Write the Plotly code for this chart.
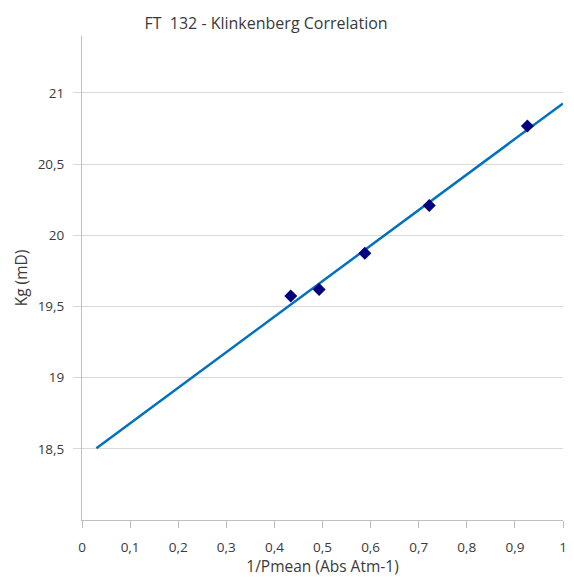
import numpy as np
import plotly.graph_objects as go

# Data
inv_pmean = [0.434, 0.493, 0.588, 0.722, 0.926]
kg = [19.574, 19.62, 19.874, 20.21, 20.767]

# Trendline extent (x values) and fit
trend_x_range = [0.03, 1.0]
slope, intercept = np.polyfit(inv_pmean, kg, 1)
trend_x = np.array(trend_x_range)
trend_y = slope * trend_x + intercept

x_ticks = [round(0.1 * i, 1) for i in range(11)]
y_ticks = [18.5, 19, 19.5, 20, 20.5, 21]

font_family = "Open Sans, Noto Sans, sans-serif"
text_color = "#3a3a3a"

fig = go.Figure()
fig.add_trace(go.Scatter(
    x=trend_x, y=trend_y, mode="lines",
    line=dict(color="#0070c0", width=2.5),
    showlegend=False, hoverinfo="skip",
))
fig.add_trace(go.Scatter(
    x=inv_pmean, y=kg, mode="markers",
    marker=dict(symbol="diamond", color="#000080", size=10),
    showlegend=False,
))

fig.update_layout(
    width=574, height=577,
    margin=dict(l=82, r=7, t=36, b=57),
    paper_bgcolor="white", plot_bgcolor="white",
    separators=",.",
    font=dict(family=font_family, size=13, color=text_color),
    title=dict(
        text="FT  132 - Klinkenberg Correlation",
        x=266 / 574, xanchor="center", y=1 - 23 / 577, yanchor="middle",
        font=dict(family=font_family, size=16, color=text_color),
    ),
    xaxis=dict(
        range=[0, 1], tickvals=x_ticks, showgrid=False, zeroline=False,
        showline=True, linecolor="#bfbfbf", linewidth=1,
        ticks="outside", ticklen=7, tickcolor="#bfbfbf",
        ticklabelstandoff=8,
        title=dict(text="1/Pmean (Abs Atm-1)", standoff=1,
                   font=dict(family=font_family, size=15.5, color=text_color)),
        tickfont=dict(size=13.5),
    ),
    yaxis=dict(
        range=[18, 21.4], tickvals=y_ticks, showgrid=True, gridcolor="#d9d9d9",
        zeroline=False, showline=True, linecolor="#bfbfbf", linewidth=1,
        ticks="outside", ticklen=8, tickcolor="#d9d9d9",
        ticklabelstandoff=6,
        title=dict(text="Kg (mD)", standoff=6,
                   font=dict(family=font_family, size=15.5, color=text_color)),
        tickfont=dict(size=13.5),
    ),
)

fig.write_html("out.html")
